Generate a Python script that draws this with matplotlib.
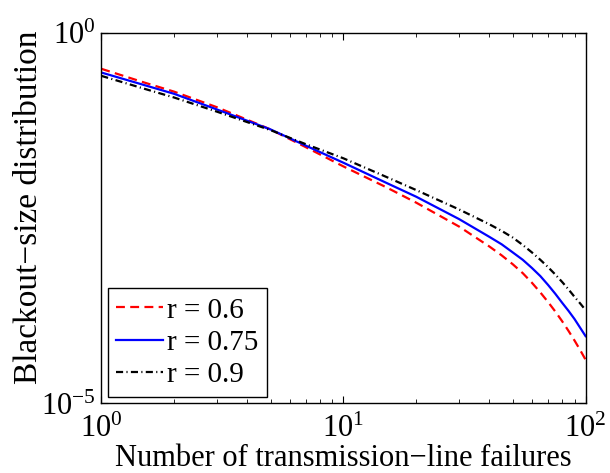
import matplotlib
matplotlib.use("Agg")
import matplotlib.pyplot as plt
from matplotlib.ticker import FixedLocator, LogFormatterMathtext, NullLocator, LogLocator

plt.rcParams['font.family'] = ['Liberation Serif', 'DejaVu Serif']
plt.rcParams['mathtext.fontset'] = 'stix'

failures = [1, 1.5, 2, 3, 5, 7, 10, 15, 20, 30, 40, 45, 50, 55, 60, 65, 70,
            75, 80, 85, 90, 95, 100]

r06 = [0.330, 0.216, 0.162, 0.100, 0.0501, 0.0288, 0.01585, 0.00832, 0.00513,
       0.00245, 0.00132, 0.00100, 7.59e-4, 5.75e-4, 4.27e-4, 3.16e-4, 2.34e-4,
       1.74e-4, 1.29e-4, 9.55e-5, 7.08e-5, 5.25e-5, 3.89e-5]
r075 = [0.294, 0.1995, 0.1514, 0.0933, 0.0501, 0.0302, 0.01778, 0.00955, 0.00617,
        0.00309, 0.00178, 0.00141, 0.001096, 8.71e-4, 6.76e-4, 5.25e-4, 3.98e-4,
        3.02e-4, 2.29e-4, 1.78e-4, 1.38e-4, 1.05e-4, 8.1e-5]
r09 = [0.265, 0.178, 0.135, 0.0871, 0.0490, 0.0316, 0.0204, 0.01148, 0.00759,
       0.00417, 0.00263, 0.00214, 0.00174, 0.00138, 0.001096, 8.71e-4, 6.92e-4,
       5.50e-4, 4.37e-4, 3.47e-4, 2.75e-4, 2.24e-4, 1.82e-4]

labels = ['r = 0.6', 'r = 0.75', 'r = 0.9']
xticks = [1, 10, 100]
yticks = [1e-5, 1]

fig = plt.figure(figsize=(6.10, 4.73), dpi=100)
ax = fig.add_axes([0.166, 0.147, 0.794, 0.783])

ax.plot(failures, r06, color='#ff0000', lw=1.6, dashes=(4, 2.4), label=labels[0])
ax.plot(failures, r075, color='#0000ff', lw=1.6, label=labels[1])
ax.plot(failures, r09, color='black', lw=1.6, dashes=(3.2, 1.5, 0.5, 1.5), label=labels[2])

ax.set_xscale('log')
ax.set_yscale('log')
ax.set_xlim(1, 100)
ax.set_ylim(1e-5, 1)
ax.xaxis.set_major_locator(FixedLocator(xticks))
ax.xaxis.set_minor_locator(LogLocator(base=10, subs=range(2, 10)))
ax.yaxis.set_major_locator(FixedLocator(yticks))
ax.yaxis.set_minor_locator(NullLocator())
ax.xaxis.set_major_formatter(LogFormatterMathtext())
ax.yaxis.set_major_formatter(LogFormatterMathtext())

ax.tick_params(which='both', direction='in', top=True, right=True, labelsize=22)
ax.tick_params(which='major', length=5, width=0.8)
ax.tick_params(which='minor', length=3, width=0.6)
ax.tick_params(axis='x', pad=8)
ax.tick_params(axis='y', pad=4)
for s in ax.spines.values():
    s.set_linewidth(1.0)

ax.set_xlabel('Number of transmission\u2212line failures', fontsize=22, labelpad=0)
ax.set_ylabel('Blackout\u2212size distribution', fontsize=24, labelpad=-2, y=0.53)

leg = ax.legend(loc='lower left', bbox_to_anchor=(0.013, 0.018), fontsize=21,
                frameon=True, fancybox=False, edgecolor='black', framealpha=1,
                handlelength=1.6, handletextpad=0.15, labelspacing=0.2,
                borderpad=0.3, borderaxespad=0)
leg.get_frame().set_linewidth(1.0)

fig.savefig('out.png', dpi=100)
